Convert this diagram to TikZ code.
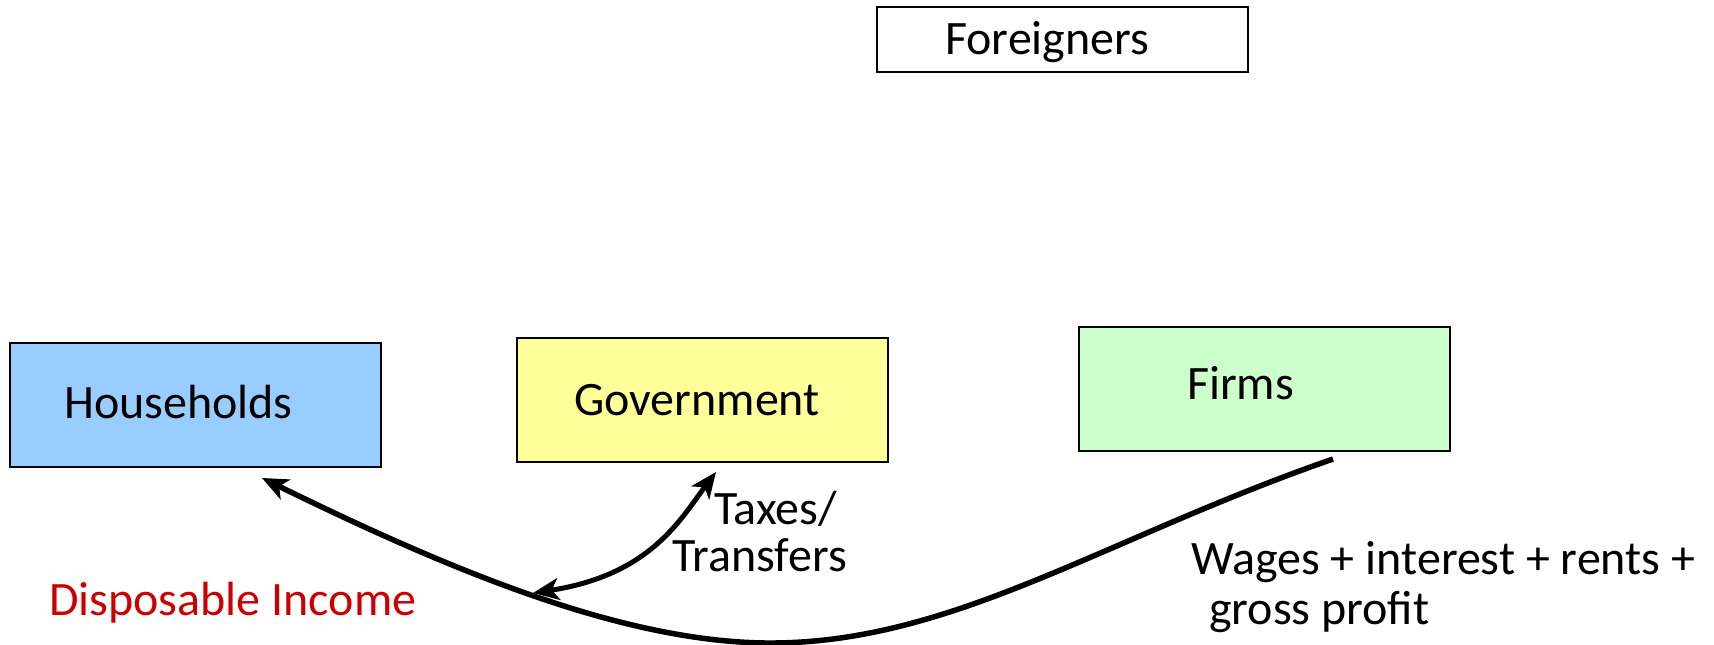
\documentclass[tikz,border=0pt]{standalone}
\usepackage{fontspec}
\setmainfont{Carlito}
\usetikzlibrary{arrows.meta}
\definecolor{hhblue}{RGB}{153,204,255}
\definecolor{govyellow}{RGB}{255,255,153}
\definecolor{firmgreen}{RGB}{204,255,204}
\definecolor{dispred}{RGB}{204,0,0}
\begin{document}
\begin{tikzpicture}[x=1pt,y=-1pt,
  box/.style={draw=black, line width=2pt, minimum width=371pt, minimum height=124pt, inner sep=0pt, outer sep=0pt},
  lbl/.style={anchor=base west, inner sep=0pt, font=\fontsize{48}{48}\selectfont},
  tipA/.tip={Stealth[length=26pt,width=22pt,inset=7pt]},
  flow/.style={line width=5.5pt, -tipA},
  dflow/.style={line width=5pt, tipA-tipA}
]
\useasboundingbox (0,0) rectangle (1714,645);
% boxes
\node[box, minimum height=65pt] (foreign) at (1062,39.5) {};
\node[box, fill=hhblue] (hh) at (195,405) {};
\node[box, fill=govyellow] (gov) at (702.5,400) {};
\node[box, fill=firmgreen] (firms) at (1264.5,388.5) {};
% box texts
\node[lbl] (tforeign) at (945,54) {Foreigners};
\node[lbl] (thh) at (64,418) {Households};
\node[lbl] (tgov) at (574,415) {Government};
\node[lbl] (tfirms) at (1187,399) {Firms};
% other labels
\node[lbl, text=dispred] (tdisp) at (49,615) {Disposable Income};
\node[lbl] (ttax1) at (714,524) {Taxes/};
\node[lbl] (ttax2) at (672,571) {Transfers};
\node[lbl] (twage1) at (1191,574) {Wages + interest + rents +};
\node[lbl] (twage2) at (1209,624) {gross profit};
% connector ends
\coordinate (fout) at (1333,459);
\coordinate (hhin) at (262,478);
\coordinate (govin) at (716,472);
\coordinate (flowin) at (533,593);
\coordinate (low) at (765,643);
% connectors
\draw[flow] (fout) .. controls (1100,540) and (950,645) .. (low)
  .. controls (620,641) and (450,570) .. (hhin);
\draw[dflow] (govin) .. controls (680,520) and (650,575) .. (flowin);
\end{tikzpicture}
\end{document}
